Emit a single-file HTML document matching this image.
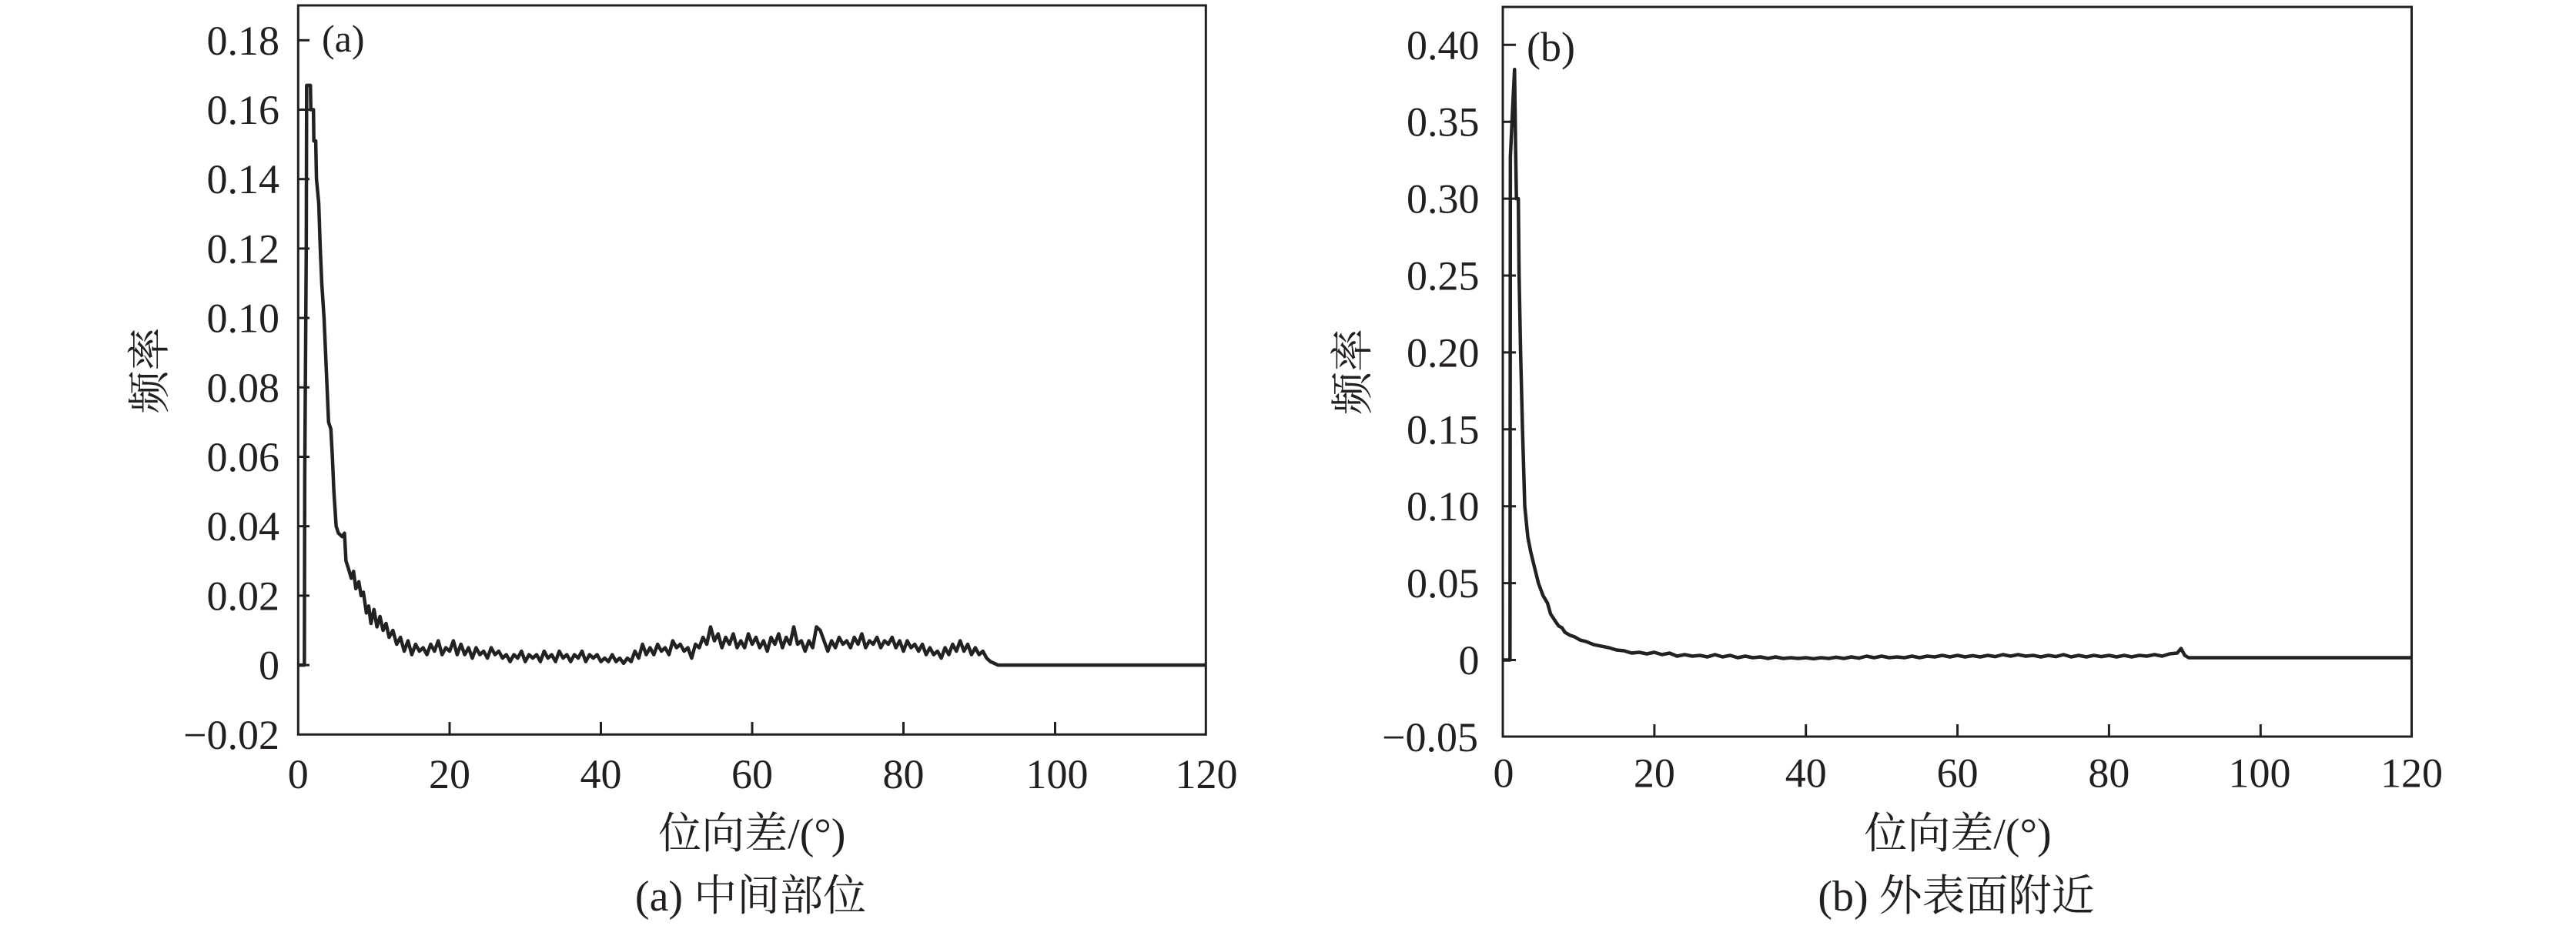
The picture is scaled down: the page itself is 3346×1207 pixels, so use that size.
<!DOCTYPE html>
<html>
<head>
<meta charset="utf-8">
<style>
  html,body{margin:0;padding:0;background:#fff;}
  body{width:3346px;height:1207px;overflow:hidden;}
  svg{display:block;}
  text{font-family:"Liberation Serif","Noto Serif CJK SC",serif;fill:#231f20;}
  .tk{font-size:54px;}
  .ttl{font-size:56px;}
  .fr{fill:none;stroke:#231f20;stroke-width:3;}
  .tick{stroke:#231f20;stroke-width:3;}
  .ser{fill:none;stroke:#222;stroke-width:4.5;stroke-linejoin:round;vector-effect:non-scaling-stroke;}
</style>
</head>
<body>
<svg width="3346" height="1207" viewBox="0 0 3346 1207" xmlns="http://www.w3.org/2000/svg">
  <rect x="0" y="0" width="3346" height="1207" fill="#fff"/>

  <!-- ================= Panel (a) ================= -->
  <polyline class="ser" transform="translate(387.5,864.1) scale(9.825,-4.51)" points="
  0,0 0.8,0 0.85,55 1.05,120 1.1,167 1.6,167 1.65,160 2,160 2.05,151 2.3,151 2.4,140 2.7,133 2.9,120 3.1,110 3.4,100 3.6,90 3.8,80 4,70 4.3,68 4.5,60 4.7,50 5,40 5.3,38 5.8,37 6.1,38 6.3,30 6.6,28 7,25 7.3,27 7.6,22 8,24 8.3,20 8.6,21 9,15 9.3,17 9.6,12 10,16 10.4,11 10.8,14 11.2,10 11.6,12 12,8 12.5,10 13,6 13.5,8
  14,4 14.5,7 15,3 15.5,6 16,4 16.5,5 17,3 17.5,6 18,4 18.5,7 19,3 19.5,5 20,4 20.5,7 21,3 21.5,6 22,3 22.5,5 23,2 23.5,5 24,3 24.5,4 25,2 25.5,5 26,3 26.5,4 27,2 27.5,3 28,1 28.5,3 29,2 29.5,4 30,1 30.5,3 31,2 31.5,3 32,1 32.5,4 33,2 33.5,3 34,1 34.5,4 35,2 35.5,3 36,1 36.5,3 37,2 37.5,4 38,1 38.5,3 39,2 39.5,3 40,1 40.5,2 41,1 41.5,3 42,1 42.5,2 43,0.5 43.5,2 44,1 44.5,4 45,2 45.5,6 46,3 46.5,5 47,3 47.5,6 48,4 48.5,5 49,3 49.5,7 50,5 50.5,6 51,4 51.5,5 52,2 52.5,6 53,5 53.5,8 54,6 54.5,11 55,7 55.5,9 56,5 56.5,8 57,6 57.5,9 58,5 58.5,7 59,5 59.5,9 60,6 60.5,8 61,5 61.5,7 62,4 62.5,8 63,6 63.5,9 64,5 64.5,8 65,6 65.5,11 66,6 66.5,7 67,4 67.5,7 68,5 68.5,11 69,10 69.5,7 70,4 70.5,7 71,5 71.5,8 72,6 72.5,7 73,5 73.5,8 74,6 74.5,9 75,5 75.5,7 76,6 76.5,8 77,5 77.5,7 78,6 78.5,8 79,5 79.5,7 80,4 80.5,7 81,5 81.5,6 82,4 82.5,6 83,3 83.5,5 84,3 84.5,4 85,2 85.5,5 86,3 86.5,6 87,4 87.5,7 88,4 88.5,6 89,3 89.5,5 90,3 90.5,4 91,2 91.5,1 92,0.5 92.5,0 120,0"/>

  <rect class="fr" x="387.3" y="7" width="1179" height="947.3"/>
  <g class="tick">
    <line x1="387.3" y1="52.3" x2="402" y2="52.3"/>
    <line x1="387.3" y1="142.5" x2="402" y2="142.5"/>
    <line x1="387.3" y1="232.7" x2="402" y2="232.7"/>
    <line x1="387.3" y1="322.9" x2="402" y2="322.9"/>
    <line x1="387.3" y1="413.1" x2="402" y2="413.1"/>
    <line x1="387.3" y1="503.3" x2="402" y2="503.3"/>
    <line x1="387.3" y1="593.5" x2="402" y2="593.5"/>
    <line x1="387.3" y1="683.7" x2="402" y2="683.7"/>
    <line x1="387.3" y1="773.9" x2="402" y2="773.9"/>
    <line x1="387.3" y1="864.1" x2="402" y2="864.1"/>
    <line x1="584" y1="954.3" x2="584" y2="938"/>
    <line x1="780.5" y1="954.3" x2="780.5" y2="938"/>
    <line x1="977" y1="954.3" x2="977" y2="938"/>
    <line x1="1173.5" y1="954.3" x2="1173.5" y2="938"/>
    <line x1="1370.5" y1="954.3" x2="1370.5" y2="938"/>
  </g>
  <g class="tk" text-anchor="end">
    <text x="363" y="70.8">0.18</text>
    <text x="363" y="161">0.16</text>
    <text x="363" y="251.2">0.14</text>
    <text x="363" y="341.4">0.12</text>
    <text x="363" y="431.6">0.10</text>
    <text x="363" y="521.8">0.08</text>
    <text x="363" y="612">0.06</text>
    <text x="363" y="702.2">0.04</text>
    <text x="363" y="792.4">0.02</text>
    <text x="363" y="882.6">0</text>
    <text x="363" y="972.8">−0.02</text>
  </g>
  <g class="tk" text-anchor="middle">
    <text x="387.3" y="1024">0</text>
    <text x="584" y="1024">20</text>
    <text x="780.5" y="1024">40</text>
    <text x="977" y="1024">60</text>
    <text x="1173.5" y="1024">80</text>
    <text x="1373" y="1024">100</text>
    <text x="1567" y="1024">120</text>
  </g>
  <text x="418" y="67" style="font-size:50px">(a)</text>
  <text class="ttl" transform="translate(195.5,481.5) rotate(-90)" text-anchor="middle" dominant-baseline="central">频率</text>
  <text class="ttl" x="976.8" y="1102" text-anchor="middle">位向差/(°)</text>
  <text class="ttl" x="975" y="1183" text-anchor="middle">(a) 中间部位</text>

  <!-- ================= Panel (b) ================= -->
  <polyline class="ser" transform="translate(1952,857.5) scale(9.843,-1.998)" points="
  0,0 0.95,0 1.0,327 1.35,364 1.55,384 1.7,330 1.8,300 2.05,300 2.15,250 2.35,200 2.6,150 2.9,100 3.3,80 3.7,70 4.2,60 4.7,50 5.3,42 5.9,37 6.3,30 6.7,27 7.1,24 7.4,22 7.8,21 8.2,18 8.9,16 9.5,15 10.2,13 11,12 12,10 13,9 14,8 15,6.5 16,6 17,4.5
  18,5 19,4 20,5 21,3.5 22,4.5 23,2.5 24,3.5 25,2.5 26,3 27,2 28,3.5 29,2 30,3 31,1.5 32,2.5 33,1.5 34,2 35,1 36,2 37,1 38,1.5 39,1 40,1.5 41,0.8 42,1.5 43,1 44,1.8 45,1 46,2 47,1.2 48,2.5 49,1.5 50,2.5 51,1.5 52,2 53,1.5 54,2.5 55,1.5 56,2.5 57,2 58,3 59,2 60,3 61,2 62,2.8 63,2 64,3 65,2.2 66,3.5 67,2.5 68,3.5 69,2.5 70,3 71,2 72,3 73,2.2 74,3.5 75,2 76,3 77,2 78,3 79,2.2 80,3 81,2 82,3 83,2 84,3 85,2.5 86,3.5 87,2.5 88,4 89,4.5 89.5,7.5 90,3 90.5,1.5 93,1.5 120,1.5"/>

  <rect class="fr" x="1952" y="9" width="1180.5" height="948"/>
  <g class="tick">
    <line x1="1952" y1="58.3" x2="1969" y2="58.3"/>
    <line x1="1952" y1="158.2" x2="1969" y2="158.2"/>
    <line x1="1952" y1="258.1" x2="1969" y2="258.1"/>
    <line x1="1952" y1="358" x2="1969" y2="358"/>
    <line x1="1952" y1="457.9" x2="1969" y2="457.9"/>
    <line x1="1952" y1="557.8" x2="1969" y2="557.8"/>
    <line x1="1952" y1="657.7" x2="1969" y2="657.7"/>
    <line x1="1952" y1="757.6" x2="1969" y2="757.6"/>
    <line x1="1952" y1="857.5" x2="1969" y2="857.5"/>
    <line x1="2148.9" y1="957" x2="2148.9" y2="941"/>
    <line x1="2345.7" y1="957" x2="2345.7" y2="941"/>
    <line x1="2542.6" y1="957" x2="2542.6" y2="941"/>
    <line x1="2739.4" y1="957" x2="2739.4" y2="941"/>
    <line x1="2936.3" y1="957" x2="2936.3" y2="941"/>
  </g>
  <g class="tk" text-anchor="end">
    <text x="1921.5" y="76.8">0.40</text>
    <text x="1921.5" y="176.7">0.35</text>
    <text x="1921.5" y="276.6">0.30</text>
    <text x="1921.5" y="376.5">0.25</text>
    <text x="1921.5" y="476.4">0.20</text>
    <text x="1921.5" y="576.3">0.15</text>
    <text x="1921.5" y="676.2">0.10</text>
    <text x="1921.5" y="776.1">0.05</text>
    <text x="1921.5" y="876">0</text>
    <text x="1920" y="975.9">−0.05</text>
  </g>
  <g class="tk" text-anchor="middle">
    <text x="1953" y="1022.5">0</text>
    <text x="2148.9" y="1022.5">20</text>
    <text x="2345.7" y="1022.5">40</text>
    <text x="2542.6" y="1022.5">60</text>
    <text x="2739.4" y="1022.5">80</text>
    <text x="2935" y="1022.5">100</text>
    <text x="3132.5" y="1022.5">120</text>
  </g>
  <text x="1983" y="79" style="font-size:54px">(b)</text>
  <text class="ttl" transform="translate(1758,483) rotate(-90)" text-anchor="middle" dominant-baseline="central">频率</text>
  <text class="ttl" x="2543" y="1102" text-anchor="middle">位向差/(°)</text>
  <text class="ttl" x="2541" y="1183" text-anchor="middle">(b) 外表面附近</text>
</svg>
</body>
</html>
